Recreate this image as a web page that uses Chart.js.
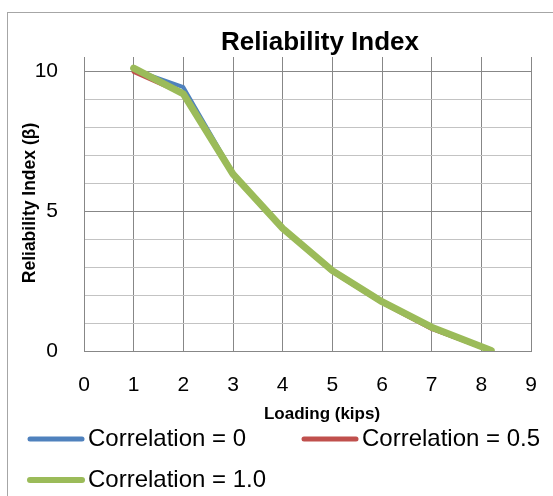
<!DOCTYPE html>
<html lang="en">
<head>
    <meta charset="UTF-8">
    <title>Reliability Index</title>
    <script src="https://cdn.jsdelivr.net/npm/chart.js"></script>
    <style>
        body {
            margin: 0;
            background: #ffffff;
            width: 553px;
            height: 496px;
            overflow: hidden;
            position: relative;
        }

        .chart-frame {
            position: absolute;
            left: 7px;
            top: 12px;
            width: 600px;
            height: 560px;
            border: 1px solid #a6a6a6;
        }

        #reliability {
            position: absolute;
            left: 0;
            top: 0;
        }
    </style>
</head>
<body>
    <div class="chart-frame"></div>
    <canvas id="reliability" width="553" height="496"></canvas>

    <script>
        // values
        const loads = [1, 2, 3, 4, 5, 6, 7, 8.2];
        const corr0 = [10.05, 9.42, 6.36, 4.37, 2.84, 1.73, 0.80, 0];
        const corr05 = [9.97, 9.18, 6.33, 4.35, 2.83, 1.72, 0.79, 0];
        const corr10 = [10.10, 9.18, 6.32, 4.38, 2.87, 1.76, 0.85, 0.02];
        const seriesNames = ['Correlation = 0', 'Correlation = 0.5', 'Correlation = 1.0'];
        const xTicks = [0, 1, 2, 3, 4, 5, 6, 7, 8, 9];
        const yLabels = [0, 5, 10];

        const FONT = "'Liberation Sans', Arial, sans-serif";
        const gridDark = '#878787';
        const gridLight = '#c3c3c3';

        function toPoints(values) {
            return values.map((v, i) => ({ x: loads[i], y: v }));
        }

        // titles and the legend are placed where Excel put them
        const textPlugin = {
            id: 'excelText',
            afterDraw(chart) {
                const ctx = chart.ctx;
                ctx.save();
                ctx.fillStyle = '#000';

                ctx.font = 'bold 26px ' + FONT;
                ctx.textAlign = 'center';
                ctx.textBaseline = 'alphabetic';
                ctx.fillText('Reliability Index', 320, 50);

                ctx.font = 'bold 17px ' + FONT;
                ctx.textBaseline = 'middle';
                ctx.fillText('Loading (kips)', 322, 414);

                ctx.save();
                ctx.font = 'bold 17.5px ' + FONT;
                ctx.translate(30, 203);
                ctx.rotate(-Math.PI / 2);
                ctx.fillText('Reliability Index (\u03B2)', 0, 0);
                ctx.restore();

                // legend, two columns like the original
                const spots = [[28, 439], [302, 439], [28, 480]];
                ctx.font = '24px ' + FONT;
                ctx.textAlign = 'left';
                chart.data.datasets.forEach((ds, i) => {
                    const [lx, ly] = spots[i];
                    ctx.beginPath();
                    ctx.strokeStyle = ds.borderColor;
                    ctx.lineWidth = i === 2 ? 6 : 5;
                    ctx.lineCap = 'round';
                    ctx.moveTo(lx + 2, ly);
                    ctx.lineTo(lx + 54, ly);
                    ctx.stroke();
                    ctx.fillText(ds.label, lx + 60, ly);
                });
                ctx.restore();
            }
        };

        const ctx = document.getElementById('reliability').getContext('2d');
        const chart = new Chart(ctx, {
            type: 'line',
            data: {
                datasets: [
                    {
                        label: seriesNames[0],
                        data: toPoints(corr0),
                        borderColor: '#4f81bd',
                        borderWidth: 4,
                        order: 2
                    },
                    {
                        label: seriesNames[1],
                        data: toPoints(corr05),
                        borderColor: '#c0504d',
                        borderWidth: 4,
                        order: 1
                    },
                    {
                        label: seriesNames[2],
                        data: toPoints(corr10),
                        borderColor: '#9bbb59',
                        borderWidth: 7,
                        order: 0
                    }
                ]
            },
            options: {
                responsive: false,
                animation: false,
                devicePixelRatio: 1,
                layout: {
                    padding: { left: 0, top: 57, right: 22, bottom: 0 }
                },
                elements: {
                    point: { radius: 0 },
                    line: {
                        tension: 0,
                        fill: false,
                        borderCapStyle: 'round',
                        borderJoinStyle: 'round'
                    }
                },
                plugins: {
                    legend: { display: false },
                    title: { display: false },
                    tooltip: { enabled: false }
                },
                scales: {
                    x: {
                        type: 'linear',
                        min: xTicks[0],
                        max: xTicks[xTicks.length - 1],
                        afterBuildTicks: (scale) => {
                            scale.ticks = xTicks.map(v => ({ value: v }));
                        },
                        afterFit: (scale) => {
                            scale.height = 145;
                            scale.paddingLeft = 0;
                            scale.paddingRight = 0;
                        },
                        ticks: {
                            padding: 22,
                            color: '#000',
                            font: { family: FONT, size: 21 },
                            maxRotation: 0
                        },
                        grid: {
                            color: gridDark,
                            lineWidth: 1,
                            drawTicks: false
                        },
                        border: { display: true, color: gridDark }
                    },
                    y: {
                        type: 'linear',
                        min: 0,
                        max: 10.5,
                        afterBuildTicks: (scale) => {
                            const out = [];
                            for (let v = 0; v <= yLabels[yLabels.length - 1]; v++) out.push({ value: v });
                            scale.ticks = out;
                        },
                        afterFit: (scale) => { scale.width = 84; },
                        ticks: {
                            padding: 26,
                            color: '#000',
                            font: { family: FONT, size: 21 },
                            callback: (v) => yLabels.includes(v) ? String(v) : ''
                        },
                        grid: {
                            color: (c) => (c.tick && c.tick.value % 5 === 0) ? gridDark : gridLight,
                            lineWidth: 1,
                            drawTicks: false
                        },
                        border: { display: true, color: gridDark }
                    }
                }
            },
            plugins: [textPlugin]
        });
    </script>
</body>
</html>
